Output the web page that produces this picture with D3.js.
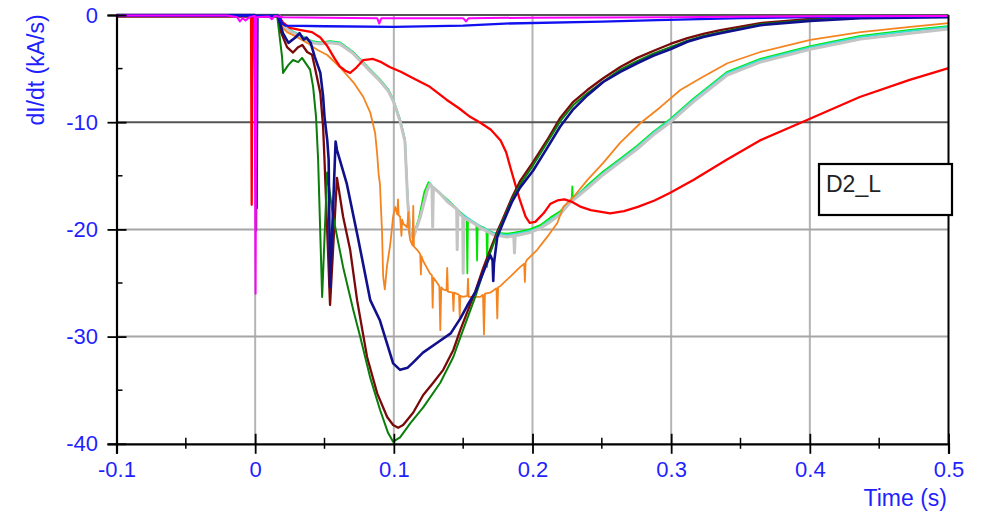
<!DOCTYPE html>
<html>
<head>
<meta charset="utf-8">
<title>dI/dt traces</title>
<script src="https://cdn.jsdelivr.net/npm/d3@7/dist/d3.min.js"></script>
<style>
  body { margin: 0; background: #fff; }
  svg { display: block; font-family: "Liberation Sans", Arial, sans-serif; }
</style>
</head>
<body>
<div id="chart"></div>
<script>
// axis ticks
var tTicks = [-0.1, 0, 0.1, 0.2, 0.3, 0.4, 0.5];
var tLabels = ["-0.1", "0", "0.1", "0.2", "0.3", "0.4", "0.5"];
var tMinor = [-0.05, 0.05, 0.15, 0.25, 0.35, 0.45];
var vTicks = [-40, -30, -20, -10, 0];
var vLabels = ["-40", "-30", "-20", "-10", "0"];
var vMinor = [-35, -25, -15, -5];

// traces, [time s, dI/dt kA/s]
var magenta = [[-0.1,-0.05],[-0.02,-0.05],[-0.013,-0.2],[-0.011,-0.6],[-0.009,-0.3],[-0.007,-0.5],[-0.004,-0.2],[-0.0005,-0.1],[0.0003,-26.0],[0.0009,-0.2],[0.01,-0.15],[0.012,-0.4],[0.014,-0.1],[0.02,-0.2],[0.05,-0.25],[0.088,-0.3],[0.0895,-0.8],[0.091,-0.3],[0.15,-0.3],[0.152,-0.6],[0.154,-0.3],[0.2,-0.25],[0.3,-0.2],[0.4,-0.12],[0.5,-0.1]];

var blue = [[-0.1,-0.05],[0.017,-0.05],[0.0195,-0.8],[0.022,-1.0],[0.05,-1.05],[0.1,-1.1],[0.15,-1.0],[0.18,-0.8],[0.25,-0.62],[0.29,-0.47],[0.35,-0.3],[0.4,-0.2],[0.5,-0.1]];

var red = [[-0.1,-0.05],[-0.003,-0.05],[-0.0025,-17.7],[-0.002,-0.05],[0.017,-0.05],[0.020,-0.7],[0.025,-1.2],[0.033,-1.4],[0.041,-1.6],[0.047,-2.1],[0.052,-2.9],[0.057,-4.0],[0.061,-4.8],[0.065,-5.2],[0.0685,-5.4],[0.073,-4.9],[0.078,-4.2],[0.085,-4.1],[0.091,-4.4],[0.097,-4.85],[0.105,-5.3],[0.114,-5.9],[0.126,-6.7],[0.138,-7.9],[0.147,-8.7],[0.155,-9.5],[0.163,-10.1],[0.170,-10.7],[0.177,-11.7],[0.181,-12.8],[0.184,-14.2],[0.188,-16.0],[0.191,-17.3],[0.195,-18.8],[0.198,-19.4],[0.202,-19.3],[0.208,-18.5],[0.213,-17.6],[0.218,-17.3],[0.223,-17.2],[0.228,-17.4],[0.235,-17.9],[0.242,-18.2],[0.256,-18.5],[0.266,-18.3],[0.276,-17.9],[0.288,-17.3],[0.299,-16.6],[0.316,-15.4],[0.340,-13.5],[0.364,-11.7],[0.398,-9.8],[0.436,-7.65],[0.472,-6.06],[0.5,-4.95]];

var orange = [[-0.1,0],[0.017,0],[0.020,-1.2],[0.023,-1.6],[0.030,-2.05],[0.0375,-2.6],[0.045,-3.26],[0.052,-3.73],[0.061,-4.85],[0.071,-6.3],[0.078,-7.65],[0.083,-9.1],[0.0865,-11.0],[0.088,-13.0],[0.089,-14.8],[0.090,-15.8],[0.0915,-20.3],[0.0923,-24.4],[0.0935,-25.6],[0.095,-23.5],[0.0975,-21.3],[0.0995,-18.8],[0.101,-17.9],[0.1025,-18.6],[0.103,-17.2],[0.1035,-18.7],[0.1045,-18.8],[0.1055,-20.6],[0.106,-19.1],[0.107,-19.5],[0.1096,-19.8],[0.1105,-18.4],[0.111,-20.3],[0.1118,-21.0],[0.1135,-21.5],[0.114,-17.8],[0.1145,-21.6],[0.1168,-21.9],[0.119,-22.3],[0.1195,-24.2],[0.12,-22.5],[0.121,-22.9],[0.126,-24.1],[0.1275,-24.3],[0.128,-27.3],[0.1285,-24.5],[0.1313,-25.0],[0.1328,-25.3],[0.1335,-29.4],[0.1342,-25.4],[0.1356,-25.6],[0.138,-25.7],[0.1385,-23.6],[0.139,-25.8],[0.1425,-25.9],[0.143,-27.6],[0.1435,-25.9],[0.147,-26.1],[0.1475,-28.2],[0.148,-26.2],[0.150,-26.3],[0.153,-26.2],[0.1535,-24.6],[0.154,-26.3],[0.157,-26.3],[0.1623,-26.3],[0.1643,-26.1],[0.165,-29.8],[0.1657,-26.0],[0.1695,-25.9],[0.174,-25.5],[0.1746,-28.3],[0.1752,-25.4],[0.1767,-25.3],[0.184,-24.4],[0.1912,-23.5],[0.194,-23.2],[0.1945,-24.9],[0.195,-23.1],[0.196,-22.85],[0.2034,-21.9],[0.2106,-20.7],[0.2179,-19.4],[0.2222,-17.9],[0.2294,-17.0],[0.2395,-15.4],[0.251,-13.8],[0.2633,-11.9],[0.2777,-10.1],[0.2922,-8.6],[0.3066,-7.0],[0.3211,-5.9],[0.3405,-4.5],[0.3643,-3.45],[0.4004,-2.33],[0.4365,-1.6],[0.4725,-1.1],[0.5,-0.75]];

var lime = [[-0.1,0],[0.017,0],[0.020,-0.9],[0.025,-1.4],[0.0346,-2.0],[0.041,-2.45],[0.047,-2.55],[0.054,-2.45],[0.061,-2.55],[0.0707,-3.45],[0.0807,-4.8],[0.090,-6.0],[0.096,-6.95],[0.0995,-7.85],[0.1045,-9.75],[0.108,-11.6],[0.110,-17.2],[0.1118,-20.3],[0.114,-20.6],[0.118,-19.0],[0.122,-16.5],[0.125,-15.6],[0.128,-16.0],[0.1385,-17.2],[0.148,-18.4],[0.1525,-18.9],[0.153,-24.1],[0.1535,-19.0],[0.1573,-19.3],[0.1595,-19.5],[0.160,-22.9],[0.1605,-19.6],[0.1645,-19.8],[0.1668,-20.0],[0.1673,-23.5],[0.1678,-20.1],[0.1717,-20.3],[0.1818,-20.4],[0.191,-20.2],[0.198,-20.0],[0.2056,-19.6],[0.2128,-18.9],[0.22,-18.3],[0.2282,-17.3],[0.2287,-16.0],[0.2292,-17.2],[0.2395,-15.9],[0.251,-14.6],[0.2633,-13.4],[0.2755,-12.2],[0.287,-10.9],[0.2994,-9.7],[0.316,-7.8],[0.3405,-5.3],[0.3643,-4.1],[0.4004,-2.9],[0.4365,-1.95],[0.4725,-1.4],[0.5,-1.05]];

var cyan = [[-0.1,0],[0.0165,0],[0.020,-0.93],[0.025,-1.4],[0.0346,-2.05],[0.041,-2.5],[0.047,-2.6],[0.054,-2.5],[0.061,-2.6],[0.0707,-3.5],[0.0807,-4.85],[0.090,-6.06],[0.096,-7.0],[0.0995,-7.9],[0.1045,-9.8],[0.108,-11.66],[0.110,-17.26],[0.1118,-20.3],[0.114,-20.7],[0.119,-18.84],[0.124,-16.3],[0.126,-15.67],[0.128,-16.04],[0.1385,-17.26],[0.148,-18.47],[0.1573,-19.3],[0.1645,-19.87],[0.1717,-20.34],[0.1818,-20.52],[0.191,-20.34],[0.198,-20.15],[0.2056,-19.8],[0.2128,-19.1],[0.22,-18.5],[0.2272,-17.26],[0.2395,-16.04],[0.251,-14.74],[0.2633,-13.53],[0.2755,-12.31],[0.287,-11.0],[0.2994,-9.8],[0.316,-7.9],[0.3405,-5.4],[0.3643,-4.2],[0.4004,-3.0],[0.4365,-2.05],[0.4725,-1.5],[0.5,-1.12]];

var gray = [[-0.1,0],[0.017,0],[0.020,-1.0],[0.025,-1.5],[0.0346,-2.15],[0.041,-2.6],[0.047,-2.7],[0.054,-2.6],[0.061,-2.7],[0.0707,-3.6],[0.0807,-4.95],[0.090,-6.15],[0.096,-7.1],[0.0995,-8.0],[0.1045,-9.9],[0.108,-11.8],[0.110,-17.4],[0.1118,-20.4],[0.114,-20.8],[0.119,-18.9],[0.124,-16.4],[0.126,-15.8],[0.1275,-16.0],[0.128,-19.8],[0.1285,-16.1],[0.133,-16.6],[0.1385,-17.4],[0.1453,-18.1],[0.1457,-21.9],[0.1462,-18.2],[0.148,-18.6],[0.1497,-18.8],[0.150,-24.1],[0.1505,-18.9],[0.1573,-19.4],[0.1645,-20.0],[0.1717,-20.5],[0.1818,-20.7],[0.1865,-20.6],[0.187,-22.2],[0.1875,-20.6],[0.191,-20.5],[0.198,-20.3],[0.2056,-19.9],[0.2128,-19.3],[0.22,-18.6],[0.2272,-17.5],[0.2395,-16.2],[0.251,-14.9],[0.2633,-13.7],[0.2755,-12.5],[0.287,-11.2],[0.2994,-10.0],[0.316,-8.1],[0.3405,-5.6],[0.3643,-4.4],[0.4004,-3.2],[0.4365,-2.25],[0.4725,-1.7],[0.5,-1.3]];

var maroon = [[-0.1,-0.15],[0.0165,-0.15],[0.018,-1.4],[0.023,-3.0],[0.0273,-3.5],[0.031,-3.0],[0.034,-2.8],[0.0375,-3.45],[0.041,-3.7],[0.043,-4.85],[0.047,-7.3],[0.049,-10.45],[0.050,-13.5],[0.054,-27.05],[0.059,-15.2],[0.0634,-18.8],[0.0685,-21.9],[0.0735,-26.6],[0.0807,-31.9],[0.088,-35.3],[0.0952,-37.5],[0.0995,-38.25],[0.1031,-38.5],[0.1067,-38.25],[0.1139,-37.1],[0.1212,-35.45],[0.1284,-34.3],[0.1356,-33.1],[0.1429,-31.25],[0.1479,-29.4],[0.153,-27.7],[0.1587,-25.8],[0.1645,-23.6],[0.1695,-21.9],[0.1746,-20.2],[0.179,-18.9],[0.1853,-17.0],[0.191,-15.5],[0.2005,-13.7],[0.2106,-11.66],[0.22,-9.6],[0.2294,-8.1],[0.2395,-7.0],[0.251,-5.9],[0.2633,-4.85],[0.2755,-4.0],[0.287,-3.36],[0.2994,-2.7],[0.3117,-2.15],[0.3232,-1.77],[0.3355,-1.4],[0.3643,-0.75],[0.4004,-0.37],[0.4365,-0.19],[0.5,-0.1]];

var green = [[-0.1,-0.05],[-0.0005,-0.05],[0.0008,-20.1],[0.0012,-0.05],[0.0158,0],[0.0194,-3.9],[0.0201,-5.4],[0.0237,-4.7],[0.0273,-4.2],[0.031,-4.4],[0.0338,-4.0],[0.0375,-4.7],[0.0396,-5.1],[0.0418,-6.7],[0.0439,-9.5],[0.0454,-13.5],[0.0483,-26.3],[0.0519,-14.7],[0.0562,-18.8],[0.0634,-23.5],[0.0707,-27.5],[0.0757,-30.0],[0.0829,-33.8],[0.0901,-36.85],[0.0959,-39.0],[0.0995,-39.8],[0.1045,-39.4],[0.1118,-38.1],[0.1212,-36.6],[0.1335,-34.3],[0.1429,-31.9],[0.1479,-30.1],[0.153,-28.3],[0.1587,-26.3],[0.1645,-24.0],[0.1695,-22.2],[0.1746,-20.4],[0.179,-19.1],[0.1853,-17.2],[0.191,-15.8],[0.2005,-14.0],[0.2106,-11.9],[0.22,-9.9],[0.2294,-8.4],[0.2395,-7.3],[0.251,-6.2],[0.2633,-5.1],[0.2755,-4.3],[0.287,-3.6],[0.2994,-3.0],[0.3117,-2.4],[0.3232,-1.95],[0.3355,-1.6],[0.3643,-0.85],[0.4004,-0.47],[0.4365,-0.2],[0.5,-0.1]];

var navy = [[-0.1,0],[-0.0004,0],[0.001,-18.0],[0.0016,-0.1],[0.0165,-0.1],[0.020,-1.7],[0.024,-2.6],[0.029,-2.1],[0.032,-1.7],[0.035,-2.3],[0.037,-2.1],[0.040,-2.6],[0.043,-3.9],[0.047,-5.4],[0.049,-7.6],[0.050,-9.5],[0.052,-11.7],[0.053,-13.5],[0.054,-25.4],[0.058,-11.8],[0.059,-12.6],[0.066,-15.7],[0.074,-20.7],[0.083,-26.6],[0.090,-28.5],[0.095,-30.6],[0.0995,-32.5],[0.1045,-33.1],[0.110,-32.9],[0.114,-32.4],[0.121,-31.5],[0.131,-30.6],[0.141,-29.7],[0.148,-28.3],[0.153,-27.1],[0.159,-25.8],[0.1645,-24.0],[0.1695,-22.4],[0.1712,-22.9],[0.1717,-24.8],[0.1722,-23.2],[0.1746,-20.7],[0.179,-19.3],[0.1853,-17.4],[0.191,-16.1],[0.2005,-14.5],[0.2106,-12.4],[0.22,-10.4],[0.2294,-8.8],[0.2395,-7.5],[0.251,-6.25],[0.2633,-5.3],[0.2755,-4.5],[0.287,-3.8],[0.2994,-3.2],[0.3117,-2.5],[0.3232,-2.05],[0.3355,-1.7],[0.3643,-0.95],[0.4004,-0.55],[0.4365,-0.3],[0.5,-0.2]];

var width = 990, height = 515;

var x = d3.scaleLinear().domain([-0.1, 0.5]).range([116.5, 948.5]);
var y = d3.scaleLinear().domain([-40, 0]).range([443.8, 15]);

var svg = d3.select('#chart')
  .append('svg')
  .attr('width', width)
  .attr('height', height);

// grid
svg.append('g').selectAll('line').data(tTicks.slice(1, -1))
  .enter().append('line')
  .attr('x1', function(d){ return x(d); })
  .attr('x2', function(d){ return x(d); })
  .attr('y1', y(0)).attr('y2', y(-40))
  .attr('stroke', '#b4b4b4').attr('stroke-width', 2);

svg.append('g').selectAll('line').data(vTicks.slice(1))
  .enter().append('line')
  .attr('x1', x(-0.1)).attr('x2', x(0.5))
  .attr('y1', function(d){ return y(d); })
  .attr('y2', function(d){ return y(d); })
  // 0 and -10 lines are darker in the original
  .attr('stroke', function(d){ return d >= -10 ? '#555' : '#a6a6a6'; })
  .attr('stroke-width', 2);

// traces
var line = d3.line()
  .x(function(d){ return x(d[0]); })
  .y(function(d){ return y(d[1]); });

var series = [
  { data: lime, color: '#00e600', w: 1.8 },
  { data: cyan, color: '#33e0d0', w: 2 },
  { data: gray, color: '#c4c4c4', w: 3 },
  { data: orange, color: '#f5841f', w: 1.8 },
  { data: red, color: '#ff0000', w: 2.3 },
  { data: maroon, color: '#7a0a0a', w: 2.3 },
  { data: green, color: '#0a7d0a', w: 2 },
  { data: navy, color: '#10108c', w: 2.6 },
  { data: blue, color: '#1010f0', w: 2.3 },
  { data: magenta, color: '#ff00ff', w: 2 }
];

svg.append('g').selectAll('path').data(series)
  .enter().append('path')
  .attr('d', function(d){ return line(d.data); })
  .attr('fill', 'none')
  .attr('stroke', function(d){ return d.color; })
  .attr('stroke-width', function(d){ return d.w; })
  .attr('stroke-linejoin', 'round');

// minor ticks
svg.append('g').selectAll('line').data(tMinor)
  .enter().append('line')
  .attr('x1', function(d){ return x(d); })
  .attr('x2', function(d){ return x(d); })
  .attr('y1', y(-40) - 6).attr('y2', y(-40) + 5)
  .attr('stroke', '#000').attr('stroke-width', 1.5);

svg.append('g').selectAll('line').data(vMinor)
  .enter().append('line')
  .attr('x1', x(-0.1)).attr('x2', x(-0.1) + 6)
  .attr('y1', function(d){ return y(d); })
  .attr('y2', function(d){ return y(d); })
  .attr('stroke', '#000').attr('stroke-width', 1.5);

// right border
svg.append('line')
  .attr('x1', x(0.5)).attr('x2', x(0.5))
  .attr('y1', y(0)).attr('y2', y(-40))
  .attr('stroke', '#000').attr('stroke-width', 2);

// axes
var xAxis = d3.axisBottom(x)
  .tickValues(tTicks)
  .tickSizeOuter(0)
  .tickSize(10)
  .tickFormat(function(d, i){ return tLabels[i]; });

var gx = svg.append('g')
  .attr('transform', 'translate(0,' + y(-40) + ')')
  .call(xAxis);
gx.select('.domain').attr('stroke', '#000').attr('stroke-width', 2.2);
gx.selectAll('.tick line').attr('y1', -10).attr('y2', 10)
  .attr('stroke', '#000').attr('stroke-width', 1.8);
gx.selectAll('.tick text')
  .attr('y', 17.6).attr('dy', '0.71em')
  .attr('fill', '#1f1fff')
  .style('font-size', '22px')
  .style('font-family', '"Liberation Sans", Arial, sans-serif');

var yAxis = d3.axisLeft(y)
  .tickValues(vTicks)
  .tickSizeOuter(0)
  .tickSize(9)
  .tickFormat(function(d, i){ return vLabels[i]; });

var gy = svg.append('g')
  .attr('transform', 'translate(' + x(-0.1) + ',0)')
  .call(yAxis);
gy.select('.domain').attr('stroke', '#000').attr('stroke-width', 2.2);
gy.selectAll('.tick line').attr('x1', 10).attr('x2', -9)
  .attr('stroke', '#000').attr('stroke-width', 1.8);
gy.selectAll('.tick text')
  .attr('x', -18.5)
  .attr('fill', '#1f1fff')
  .style('font-size', '22px')
  .style('font-family', '"Liberation Sans", Arial, sans-serif');

// axis titles
svg.append('text')
  .attr('x', 947).attr('y', 506)
  .attr('text-anchor', 'end')
  .attr('fill', '#1f1fff')
  .style('font-size', '23px')
  .text('Time (s)');

svg.append('text')
  .attr('transform', 'translate(44,70) rotate(-90)')
  .attr('text-anchor', 'middle')
  .attr('fill', '#1f1fff')
  .style('font-size', '23px')
  .text('dI/dt (kA/s)');

// label box
svg.append('rect')
  .attr('x', 819).attr('y', 164)
  .attr('width', 133).attr('height', 51)
  .attr('fill', '#fff')
  .attr('stroke', '#000').attr('stroke-width', 2.2);

svg.append('text')
  .attr('x', 826).attr('y', 192)
  .attr('fill', '#222')
  .style('font-size', '23px')
  .text('D2_L');
</script>
</body>
</html>
